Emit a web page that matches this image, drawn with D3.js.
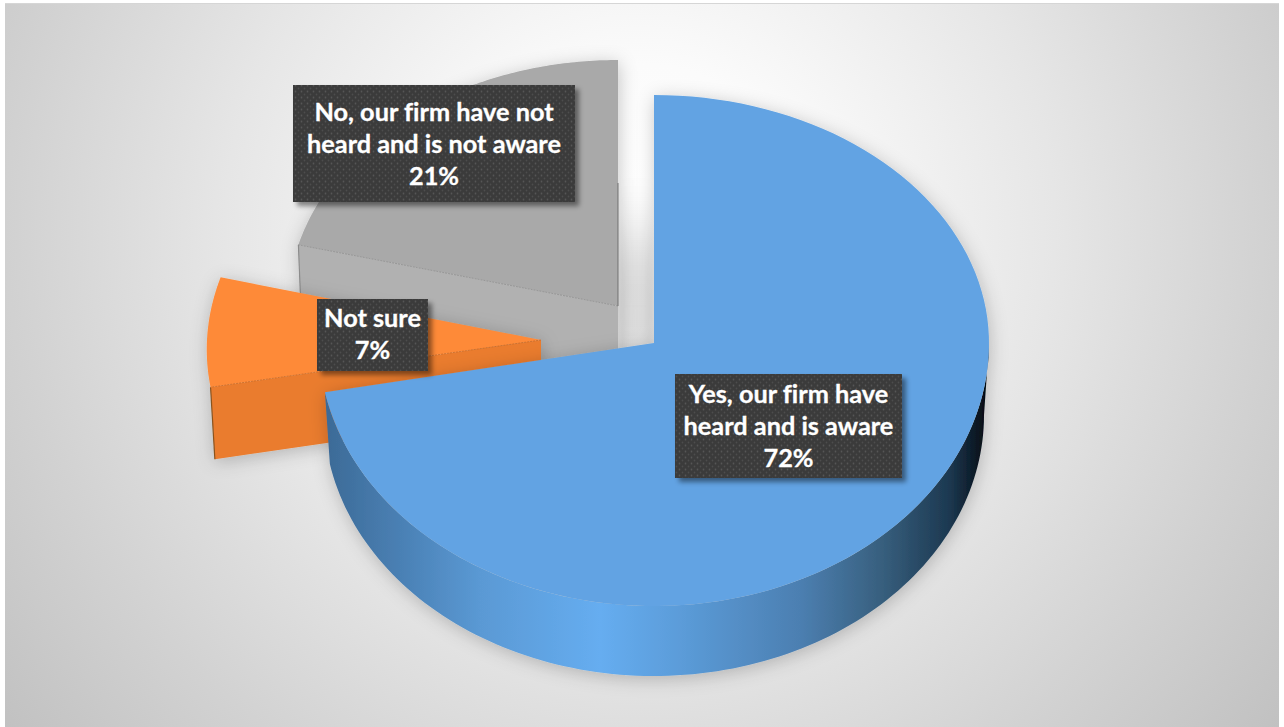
<!DOCTYPE html>
<html>
<head>
<meta charset="utf-8">
<script src="https://cdn.jsdelivr.net/npm/d3@7"></script>
<style>
  html, body { margin: 0; padding: 0; background: #fff; overflow: hidden; }
  svg { display: block; }
  text { font-family: Lato, "Open Sans", sans-serif; font-weight: 700; fill: #fff; stroke: #fff; stroke-width: 0.3px; text-anchor: middle; font-variant-ligatures: none; }
</style>
</head>
<body>
<svg id="chart" width="1284" height="727"></svg>
<script>
// Survey answers, clockwise from twelve o'clock
const categories = ["Yes", "Not sure", "No"];
const values = [72, 7, 21];
const labelLines = [
  ["Yes, our firm have", "heard and is aware"],
  ["Not sure"],
  ["No, our firm have not", "heard and is not aware"]
];
const sliceColors = [
  { top: "#62a3e3", wall: "url(#blueWall)" },
  { top: "#fe8a38", wall: "#ea7c2e", seam: "#c96a26", edge: "#8a531f" },
  { top: "#a9a9a9", wall: "#b1b1b1", seam: "#8f8f8f", edge: "#8c8c8c" }
];
// Tilted-disc geometry per slice: apex, top ellipse radii, wall drop, bottom ellipse radii
const sliceGeometry = [
  { cx: 654, cy: 343, rx: 335, ryBack: 248, ryFront: 263, depth: 72, rxBottom: 330, ryBottom: 261, skew: 0 },
  { cx: 541, cy: 340, rx: 334, ryBack: 252, ryFront: 252, depth: 72, rxBottom: 329.6, ryBottom: 252, skew: -0.05 },
  { cx: 618, cy: 306, rx: 330, ryBack: 246, ryFront: 246, depth: 72, rxBottom: 327, ryBottom: 246, skew: 0 }
];
// Label plates
const labelBoxes = [
  { x: 675, y: 374, w: 227, h: 104, firstBaseline: 403 },
  { x: 317, y: 299, w: 111, h: 72, firstBaseline: 327 },
  { x: 293, y: 85, w: 282, h: 117, firstBaseline: 121 }
];
const lineStep = 32;
const wallStops = [
  [325, "#3c6a96"], [400, "#4a80b4"], [480, "#5a99d4"], [600, "#66adf0"], [680, "#5b9cd9"],
  [800, "#4c7fb1"], [880, "#38607f"], [950, "#1c3850"], [985, "#060e16"]
];

const svg = d3.select("#chart");
const defs = svg.append("defs");

const bg = defs.append("radialGradient").attr("id", "bg")
  .attr("gradientUnits", "userSpaceOnUse")
  .attr("cx", 640).attr("cy", 230).attr("r", 830);
[[0, "#ffffff"], [0.2, "#fbfbfb"], [0.5, "#e6e6e6"], [0.75, "#d2d2d2"], [1, "#bfbfbf"]]
  .forEach(([o, c]) => bg.append("stop").attr("offset", o).attr("stop-color", c));

const wall = defs.append("linearGradient").attr("id", "blueWall")
  .attr("gradientUnits", "userSpaceOnUse")
  .attr("x1", 325).attr("x2", 985).attr("y1", 0).attr("y2", 0);
wallStops.forEach(([x, c]) => wall.append("stop").attr("offset", (x - 325) / 660).attr("stop-color", c));

const pat = defs.append("pattern").attr("id", "dots").attr("patternUnits", "userSpaceOnUse")
  .attr("width", 6).attr("height", 6);
pat.append("rect").attr("width", 6).attr("height", 6).attr("fill", "#3a3a3a");
pat.append("circle").attr("cx", 1.5).attr("cy", 1.5).attr("r", 0.9).attr("fill", "#565656");
pat.append("circle").attr("cx", 4.5).attr("cy", 4.5).attr("r", 0.9).attr("fill", "#4e4e4e");

const discShadow = defs.append("filter").attr("id", "discShadow")
  .attr("filterUnits", "userSpaceOnUse")
  .attr("x", 0).attr("y", 0).attr("width", 1284).attr("height", 727);
discShadow.append("feDropShadow").attr("dx", 1).attr("dy", 3).attr("stdDeviation", 9)
  .attr("flood-color", "#000").attr("flood-opacity", 0.22);

const gapBlur = defs.append("filter").attr("id", "gapBlur")
  .attr("filterUnits", "userSpaceOnUse")
  .attr("x", 0).attr("y", 0).attr("width", 1284).attr("height", 727);
gapBlur.append("feGaussianBlur").attr("stdDeviation", "3 30");

const boxShadow = defs.append("filter").attr("id", "boxShadow")
  .attr("x", "-10%").attr("y", "-10%").attr("width", "125%").attr("height", "130%");
boxShadow.append("feDropShadow").attr("dx", 4).attr("dy", 4).attr("stdDeviation", 2.5)
  .attr("flood-color", "#000").attr("flood-opacity", 0.45);

svg.append("rect").attr("x", 5).attr("y", 3).attr("width", 1274).attr("height", 724).attr("fill", "url(#bg)");
svg.append("line").attr("x1", 5).attr("x2", 1279).attr("y1", 3.5).attr("y2", 3.5).attr("stroke", "#d6d6d6");

// Soft shade in the gap between the grey slice and the blue slice
const backSlice = sliceGeometry[2], mainSlice = sliceGeometry[0];
svg.append("rect")
  .attr("x", backSlice.cx).attr("width", mainSlice.cx - backSlice.cx)
  .attr("y", mainSlice.cy - mainSlice.ryBack * 0.45).attr("height", mainSlice.ryBack * 0.6)
  .attr("fill", "#000").attr("opacity", 0.13).attr("filter", "url(#gapBlur)");

const slices = d3.pie().sort(null)(values);
const outline = d3.line();

function topPoint(g, a) {
  const c = Math.cos(a);
  const y = -c * (c > 0 ? g.ryBack : g.ryFront);
  return [g.cx + g.rx * Math.sin(a) + g.skew * y, g.cy + y];
}
function bottomPoint(g, a) {
  const c = Math.cos(a);
  const y = -c * (c > 0 ? g.ryBack : g.ryBottom);
  return [g.cx + g.rxBottom * Math.sin(a) + g.skew * y, g.cy + g.depth + y];
}
function arcSamples(a0, a1) {
  return d3.range(0, 121).map(i => a0 + (a1 - a0) * i / 120);
}

// Draw back to front: grey, then orange, then the main blue slice
const order = [2, 1, 0];
order.forEach(i => {
  const s = slices[i], g = sliceGeometry[i], col = sliceColors[i];
  const group = svg.append("g").attr("filter", "url(#discShadow)").attr("data-category", categories[i]);
  const apex = [g.cx, g.cy];
  const apexLow = [g.cx, g.cy + g.depth];

  if (i === 0) {
    // Front wall of the blue slice: right-hand extreme round to the cut edge
    const arc = arcSamples(Math.PI / 2, s.endAngle);
    group.append("path")
      .attr("d", outline([...arc.map(a => topPoint(g, a)), ...arc.reverse().map(a => bottomPoint(g, a))]) + "Z")
      .attr("fill", col.wall);
  } else {
    // Cut face that looks toward the viewer
    const cutAngle = s.startAngle;
    const cornerTop = topPoint(g, cutAngle), cornerLow = bottomPoint(g, cutAngle);
    group.append("path")
      .attr("d", outline([apex, cornerTop, cornerLow, apexLow]) + "Z")
      .attr("fill", col.wall);
    group.append("path")
      .attr("d", outline([cornerTop, cornerLow]))
      .attr("fill", "none").attr("stroke", col.edge).attr("stroke-width", 1.2);
  }

  const surface = arcSamples(s.startAngle, s.endAngle).map(a => topPoint(g, a));
  group.append("path")
    .attr("d", outline([apex, ...surface]) + "Z")
    .attr("fill", col.top);

  if (i !== 0) {
    group.append("path")
      .attr("d", outline([apex, topPoint(g, s.startAngle)]))
      .attr("fill", "none").attr("stroke", col.seam).attr("stroke-width", 0.8)
      .attr("stroke-dasharray", "2 1");
  }
  if (i === 2) {
    // The grey slice's far cut face, seen edge-on
    group.append("line")
      .attr("x1", g.cx).attr("x2", g.cx)
      .attr("y1", g.cy - g.ryBack * 0.5).attr("y2", g.cy)
      .attr("stroke", "#6e6e6e").attr("stroke-width", 1);
  }
});

// Data labels
const pct = d3.format(".0%");
const total = d3.sum(values);
order.forEach(i => {
  const b = labelBoxes[i];
  const lab = svg.append("g");
  lab.append("rect").attr("x", b.x).attr("y", b.y).attr("width", b.w).attr("height", b.h)
    .attr("fill", "url(#dots)").attr("filter", "url(#boxShadow)");
  const lines = [...labelLines[i], pct(values[i] / total)];
  lines.forEach((t, k) => {
    lab.append("text")
      .attr("x", b.x + b.w / 2)
      .attr("y", b.firstBaseline + k * lineStep)
      .attr("font-size", 25.3)
      .text(t);
  });
});
</script>
</body>
</html>
